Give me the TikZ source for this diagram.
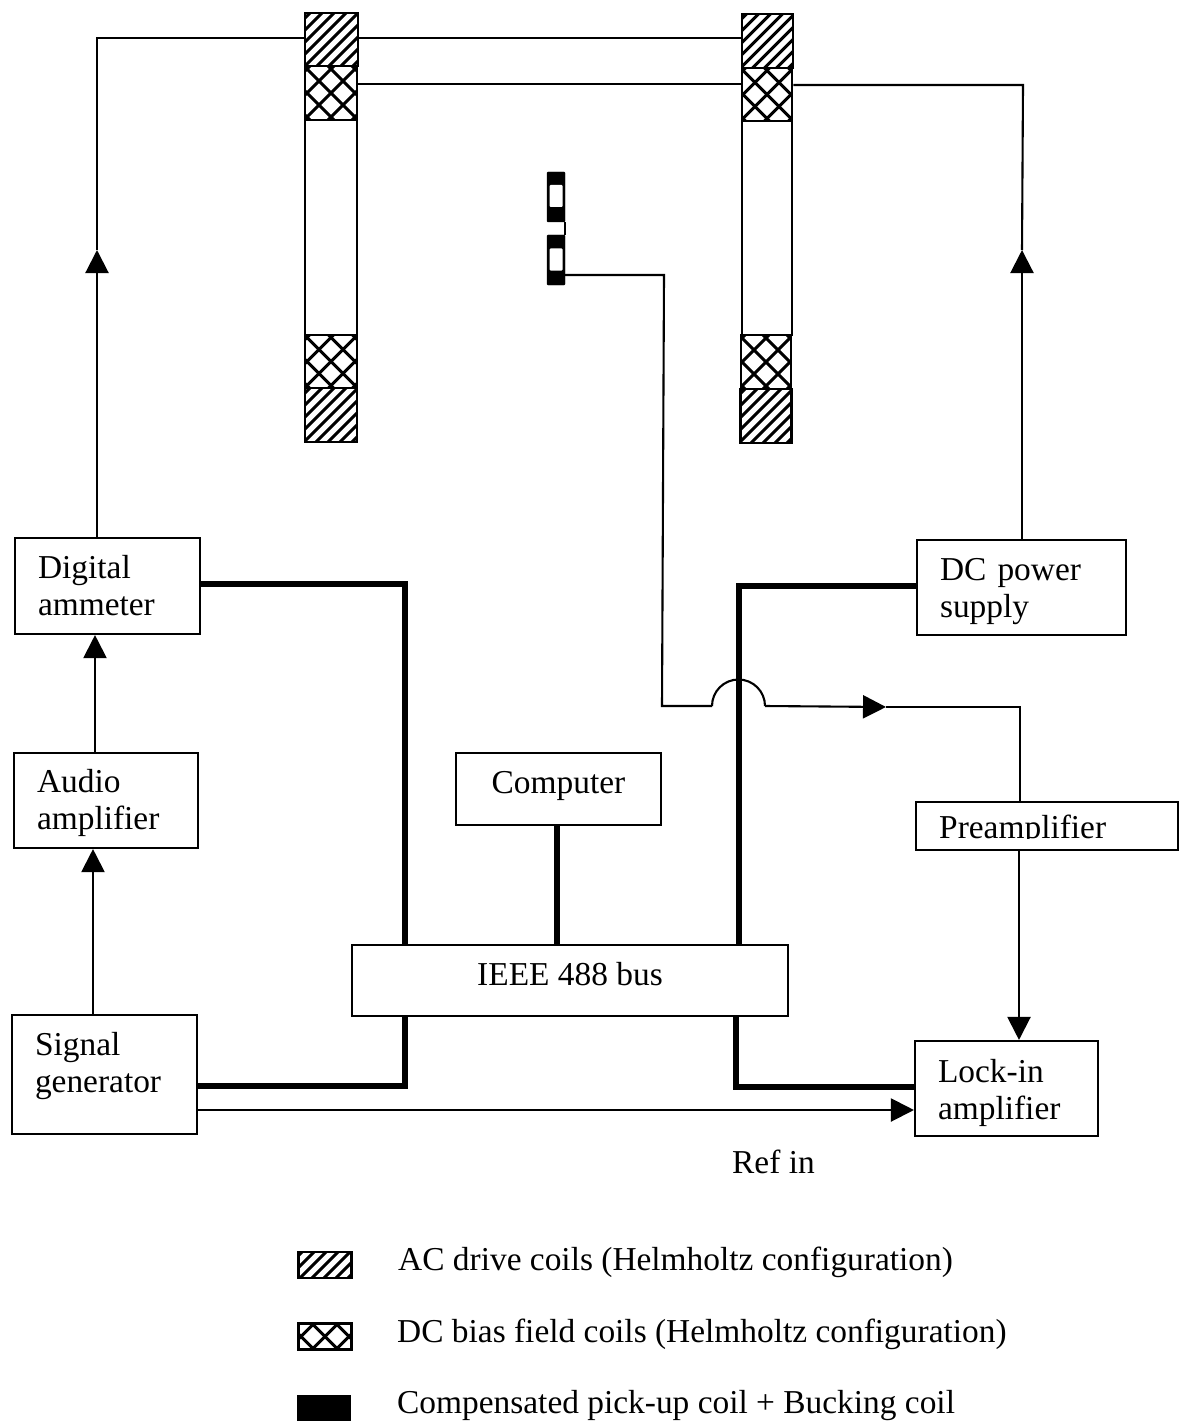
\documentclass[tikz,border=0pt]{standalone}
\usepackage{fontspec}
\setmainfont{Liberation Serif}
\usetikzlibrary{arrows.meta,positioning,calc}
\tikzset{
  wire/.style={line width=2.1pt,line join=miter},
  feed/.style={wire,-{Triangle[length=23pt,width=23pt]}},
  busline/.style={line width=6.5pt,line join=miter},
  txt/.style={font=\fontsize{33.4}{37}\selectfont},
  textup/.style={text height=30pt,text depth=#1pt},
  instbox/.style 2 args={draw,line width=2.1pt,fill=white,txt,minimum width=#1pt,
    minimum height=#2pt,inner xsep=23pt,inner ysep=0pt,text width=#1pt-46pt,align=left},
  plainbox/.style 2 args={draw,line width=2.1pt,fill=white,txt,minimum width=#1pt,
    minimum height=#2pt,inner sep=0pt,align=center},
  coil/.style 2 args={draw,line width=2.6pt,fill=white,minimum width=#1pt,minimum height=#2pt,inner sep=0pt},
  accoil/.style 2 args={coil={#1}{#2},path picture={
    \begin{scope}[shift={(path picture bounding box.center)}]
    \foreach \d in {-84,-72,...,84} \draw[line width=2.9pt] (\d-40,40) -- (\d+40,-40);
    \end{scope}}},
  dccoil/.style 2 args={coil={#1}{#2},path picture={
    \begin{scope}[shift={(path picture bounding box.center)}]
    \foreach \d in {-72,-48,...,72} {
      \draw[line width=2.9pt] (\d-40,40) -- (\d+40,-40);
      \draw[line width=2.9pt] (\d-40,-40) -- (\d+40,40);}
    \end{scope}}},
  pickup/.style={draw,fill=black,rounded corners=1pt,minimum width=18pt,minimum height=50pt,inner sep=0pt},
  window/.style={fill=white,rounded corners=1pt,minimum width=13pt,minimum height=22pt,inner sep=0pt},
  legend/.style={txt,anchor=base west,inner sep=0pt}
}
\begin{document}
\begin{tikzpicture}[x=1pt,y=-1pt]
\useasboundingbox (0,0) rectangle (1179,1423);
% Left coil pair
\node[coil={52}{215}] (bodyl) at (331,227.5) {};
\node[accoil={53}{53}] (actl) at (331.5,39.5) {};
\node[dccoil={52}{54}] (dctl) at (331,93) {};
\node[dccoil={52}{53}] (dcbl) at (331,361.5) {};
\node[accoil={52}{54}] (acbl) at (331,415) {};
% Right coil pair
\node[coil={50}{214}] (bodyr) at (767,228) {};
\node[accoil={51}{54}] (actr) at (767.5,41) {};
\node[dccoil={50}{53}] (dctr) at (767,94.5) {};
\node[dccoil={50}{54}] (dcbr) at (766,362) {};
\node[accoil={51}{54}] (acbr) at (766,416) {};
% Pick-up and bucking coil
\node[pickup] (puu) at (556,197) {};
\node[window] (puuw) at (556,196) {};
\node[pickup] (pul) at (556,260) {};
\node[window] (pulw) at (556,259.5) {};
\draw[wire] (puu.south east) -- (pul.north east);
% Instruments
\node[instbox={185}{96},textup=46] (dig) at (107.5,586) {Digital\\ammeter};
\node[instbox={184}{95},textup=47] (aud) at (106,800.5) {Audio\\amplifier};
\node[instbox={185}{119},textup=69] (sig) at (104.5,1074.5) {Signal\\generator};
\node[plainbox={205}{72},textup=22] (comp) at (558.5,789) {Computer};
\node[plainbox={436}{71},textup=21] (bus) at (570,980.5) {IEEE 488 bus};
\node[instbox={209}{95},textup=45] (dcps) at (1021.5,587.5) {DC power\\supply};
\node[draw,line width=2.1pt,minimum width=262pt,minimum height=48pt,inner sep=0pt] (pre) at (1047,826) {};
\node[instbox={183}{95},textup=43] (lock) at (1006.5,1088.5) {Lock-in\\amplifier};
\begin{scope}
\clip (916,802) rectangle (1178,838);
\node[txt,anchor=base west,inner sep=0pt] (pretxt) at (939,838) {Preamplifier};
\end{scope}
\node[txt,anchor=base west,inner sep=0pt] (refin) at (732,1173) {Ref in};
% Free ends of the wires
\coordinate (tipdig) at (97,250);
\coordinate (cnrdig) at (97,38);
\coordinate (tipdc) at (1022,250);
\coordinate (cnrdc) at (1023,85);
\coordinate (cnrpu) at (664,275);
\coordinate (cnrpub) at (662,706);
\coordinate (arca) at (712,706);
\coordinate (arcb) at (765,706);
\coordinate (tipsig) at (886,707);
\coordinate (cnrpre) at (1020,707);
% Thin wires
\draw[feed] (dig.north-|cnrdig) -- (tipdig);
\draw[wire] (tipdig) -- (cnrdig) -- (actl.west|-cnrdig);
\draw[wire] (actl.east|-cnrdig) -- (actr.west|-cnrdig);
\draw[wire] (dctl.east|-0,84) -- (dctr.west|-0,84);
\draw[wire] (dctr.east|-cnrdc) -- (cnrdc) -- (tipdc);
\draw[feed] (dcps.north-|tipdc) -- (tipdc);
\draw[feed] (aud.north-|95,0) -- (dig.south-|95,0);
\draw[feed] (sig.north-|93,0) -- (aud.south-|93,0);
\draw[feed] (sig.east|-0,1110) -- (lock.west|-0,1110);
\draw[wire] (pul.east|-cnrpu) -- (cnrpu) -- (cnrpub) -- (arca);
\draw[wire] (arca) arc[start angle=180,end angle=360,radius=26.5];
\draw[feed] (arcb) -- (tipsig);
\draw[wire] (tipsig) -- (cnrpre) -- (pre.north-|cnrpre);
\draw[feed] (pre.south-|1019,0) -- (lock.north-|1019,0);
% IEEE bus lines
\draw[busline] (dig.east|-0,584) -| (405,944);
\draw[busline] (sig.east|-0,1086) -| (405,1015);
\draw[busline] (comp.south-|557,0) -- (bus.north-|557,0);
\draw[busline] (dcps.west|-0,586) -| (739,944);
\draw[busline] (lock.west|-0,1087) -| (736,1015);
% Legend
\node[accoil={53}{26}] (keyac) at (325,1265) {};
\node[legend] (txtac) at (398,1270) {AC drive coils (Helmholtz configuration)};
\node[dccoil={53}{26}] (keydc) at (325,1336.5) {};
\node[legend] (txtdc) at (397,1342) {DC bias field coils (Helmholtz configuration)};
\node[draw,fill=black,minimum width=53pt,minimum height=25pt,inner sep=0pt] (keypu) at (324,1408) {};
\node[legend] (txtpu) at (397,1413) {Compensated pick-up coil + Bucking coil};
\end{tikzpicture}
\end{document}
